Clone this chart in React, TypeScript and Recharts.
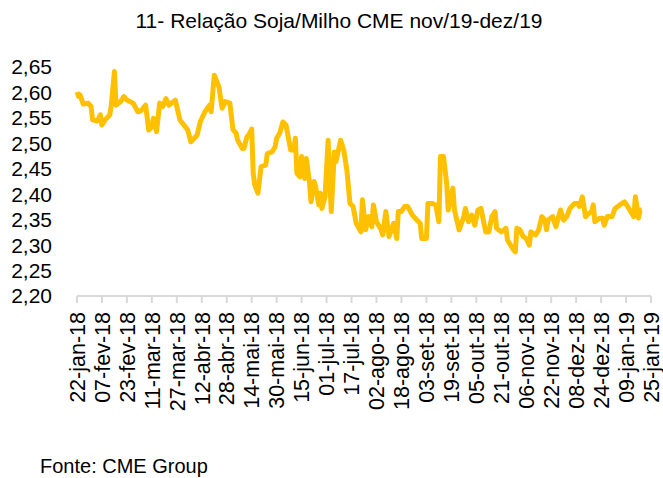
import React from "react";
import { LineChart, Line, XAxis, YAxis } from "recharts";

// dias desde 22-jan-18 (eixo em dias corridos)
const days = [
  0, 1, 2, 4, 7, 9, 10, 13, 15, 16, 18, 21, 22, 24, 25, 28, 30, 32, 36, 39,
  41, 44, 46, 48, 49, 51, 53, 55, 57, 59, 63, 66, 71, 73, 77, 79, 82, 85, 86, 88,
  91, 93, 95, 98, 100, 102, 103, 106, 107, 109, 110, 112, 113, 114, 116, 118, 121, 122, 125, 127,
  128, 130, 132, 134, 137, 139, 140, 141, 143, 144, 146, 147, 149, 150, 152, 153, 155, 156, 157, 159,
  161, 162, 163, 165, 166, 169, 171, 173, 175, 177, 179, 182, 183, 185, 187, 189, 190, 192, 195, 196,
  198, 200, 203, 205, 206, 208, 210, 212, 215, 218, 220, 221, 224, 225, 228, 230, 232, 233, 235, 237,
  238, 241, 242, 245, 248, 249, 251, 253, 255, 257, 259, 262, 264, 266, 268, 269, 272, 275, 276, 280,
  281, 282, 284, 286, 288, 290, 291, 294, 296, 298, 300, 301, 302, 305, 307, 310, 312, 314, 316, 319,
  321, 322, 324, 326, 328, 330, 331, 332, 335, 337, 338, 340, 343, 345, 348, 351, 353, 357, 358, 360,
  361, 362,
];

// relação soja/milho
const ratio = [
  2.601, 2.592, 2.595, 2.577, 2.579, 2.573, 2.546, 2.544, 2.556, 2.536, 2.546, 2.556, 2.575, 2.641, 2.575, 2.582, 2.592, 2.585, 2.579, 2.562,
  2.564, 2.575, 2.526, 2.533, 2.549, 2.523, 2.579, 2.572, 2.588, 2.575, 2.585, 2.546, 2.526, 2.503, 2.516, 2.542, 2.562, 2.575, 2.562, 2.634,
  2.611, 2.569, 2.582, 2.579, 2.527, 2.52, 2.506, 2.49, 2.49, 2.513, 2.516, 2.528, 2.44, 2.418, 2.402, 2.454, 2.457, 2.48, 2.483, 2.493,
  2.51, 2.52, 2.542, 2.536, 2.487, 2.487, 2.51, 2.441, 2.434, 2.474, 2.431, 2.47, 2.425, 2.385, 2.425, 2.415, 2.379, 2.402, 2.372, 2.395,
  2.506, 2.431, 2.366, 2.483, 2.464, 2.506, 2.487, 2.448, 2.382, 2.376, 2.343, 2.326, 2.389, 2.33, 2.356, 2.336, 2.379, 2.346, 2.33, 2.32,
  2.366, 2.317, 2.343, 2.313, 2.366, 2.366, 2.376, 2.376, 2.359, 2.349, 2.343, 2.313, 2.313, 2.382, 2.382, 2.379, 2.346, 2.474, 2.474, 2.421,
  2.369, 2.412, 2.369, 2.33, 2.356, 2.372, 2.346, 2.359, 2.339, 2.369, 2.372, 2.326, 2.326, 2.356, 2.366, 2.333, 2.326, 2.333, 2.31, 2.29,
  2.287, 2.333, 2.33, 2.317, 2.313, 2.3, 2.326, 2.32, 2.33, 2.356, 2.349, 2.33, 2.349, 2.356, 2.336, 2.369, 2.349, 2.356, 2.372, 2.382,
  2.382, 2.376, 2.395, 2.356, 2.362, 2.366, 2.379, 2.346, 2.353, 2.353, 2.339, 2.356, 2.356, 2.372, 2.379, 2.385, 2.376, 2.356, 2.395, 2.353,
  2.369, 2.369,
];

const tickLabels = [
  "22-jan-18", "07-fev-18", "23-fev-18", "11-mar-18", "27-mar-18", "12-abr-18", "28-abr-18", "14-mai-18",
  "30-mai-18", "15-jun-18", "01-jul-18", "17-jul-18", "02-ago-18", "18-ago-18", "03-set-18", "19-set-18",
  "05-out-18", "21-out-18", "06-nov-18", "22-nov-18", "08-dez-18", "24-dez-18", "09-jan-19", "25-jan-19",
];

const yTicks = [2.2, 2.25, 2.3, 2.35, 2.4, 2.45, 2.5, 2.55, 2.6, 2.65];

const data = days.map((d, i) => ({ d, v: ratio[i] }));
const xTicks = tickLabels.map((_, i) => i * 16);

const FONT = "'Liberation Sans', Arial, sans-serif";

const DateTick = (props: any) => {
  const { x, y, payload } = props;
  const label = tickLabels[Math.round(payload.value / 16)];
  return (
    <text
      x={0}
      y={0}
      transform={`translate(${x},${y + 7}) rotate(-90)`}
      textAnchor="end"
      dy="0.36em"
      fontSize={21.5}
      fontFamily={FONT}
      fill="#000"
    >
      {label}
    </text>
  );
};

export default function App() {
  return (
    <div style={{ position: "absolute", left: 0, top: 0, width: 663, height: 478, background: "#fff", fontFamily: FONT }}>
      <div style={{ position: "absolute", left: 0, width: 678, top: 9, textAlign: "center", fontSize: 21, color: "#000" }}>
        11- Relação Soja/Milho CME nov/19-dez/19
      </div>
      <LineChart width={663} height={478} data={data} margin={{ top: 67, right: 12, left: 0, bottom: 0 }}>
        <XAxis
          dataKey="d"
          type="number"
          domain={[0, 368]}
          ticks={xTicks}
          interval={0}
          height={182}
          tick={<DateTick />}
          stroke="#d9d9d9"
          strokeWidth={2}
          tickSize={7}
        />
        <YAxis
          type="number"
          domain={[2.2, 2.65]}
          ticks={yTicks}
          interval={0}
          width={77}
          axisLine={false}
          tickLine={false}
          tickSize={0}
          tickMargin={25}
          tickFormatter={(v: number) => v.toFixed(2).replace(".", ",")}
          tick={{ fontSize: 21, fill: "#000", fontFamily: FONT }}
        />
        <Line
          type="linear"
          dataKey="v"
          stroke="#FFC000"
          strokeWidth={5}
          strokeLinejoin="round"
          dot={false}
          isAnimationActive={false}
        />
      </LineChart>
      <div style={{ position: "absolute", left: 40, top: 455, fontSize: 20, color: "#000" }}>Fonte: CME Group</div>
    </div>
  );
}
